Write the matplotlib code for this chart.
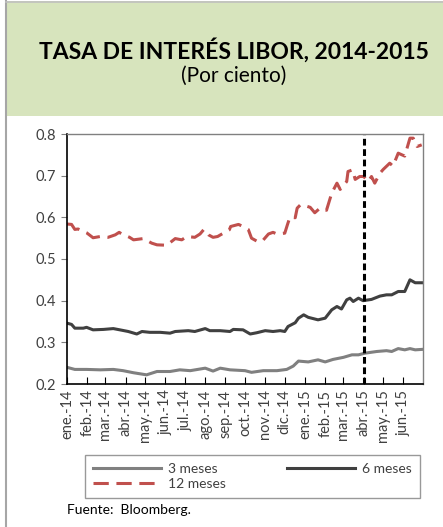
import matplotlib
matplotlib.use("Agg")
import matplotlib.pyplot as plt
from matplotlib.patches import Rectangle
from matplotlib.lines import Line2D
import pandas as pd

plt.rcParams['font.family'] = ['Lato', 'DejaVu Sans']

inicio = pd.Timestamp("2014-01-01")

# dias desde 1-ene-2014 (por ciento)
dias_3m = [0, 12, 30, 51, 71, 86, 102, 122, 138, 158, 173, 189, 212, 224, 235,
           250, 273, 283, 301, 322, 337, 347, 355, 370, 385, 396, 408, 424, 437,
           447, 457, 475, 490, 498, 508, 518, 526, 534, 544]
tasa_3m = [0.240, 0.235, 0.235, 0.234, 0.235, 0.232, 0.227, 0.222, 0.230, 0.230,
           0.234, 0.232, 0.238, 0.231, 0.238, 0.234, 0.232, 0.228, 0.232, 0.232,
           0.235, 0.243, 0.255, 0.253, 0.258, 0.253, 0.259, 0.264, 0.270, 0.270,
           0.274, 0.278, 0.280, 0.278, 0.285, 0.282, 0.285, 0.282, 0.283]

dias_6m = [0, 7, 12, 25, 30, 40, 56, 71, 81, 94, 107, 115, 127, 143, 158, 166,
           186, 196, 212, 219, 235, 250, 255, 270, 281, 291, 304, 316, 327, 334,
           339, 350, 355, 363, 370, 375, 385, 396, 406, 414, 421, 429, 434, 439,
           447, 454, 467, 480, 490, 498, 508, 518, 526, 534, 544]
tasa_6m = [0.346, 0.343, 0.334, 0.334, 0.336, 0.330, 0.331, 0.333, 0.330, 0.326,
           0.320, 0.326, 0.324, 0.324, 0.322, 0.326, 0.328, 0.326, 0.333, 0.328,
           0.328, 0.326, 0.331, 0.330, 0.320, 0.323, 0.328, 0.326, 0.328, 0.326,
           0.338, 0.347, 0.358, 0.366, 0.360, 0.358, 0.354, 0.358, 0.378, 0.386,
           0.380, 0.402, 0.406, 0.398, 0.406, 0.400, 0.403, 0.411, 0.414, 0.414,
           0.422, 0.422, 0.450, 0.443, 0.443]

dias_12m = [0, 7, 12, 17, 30, 40, 51, 63, 74, 80, 84, 96, 102, 117, 130, 138,
            153, 166, 176, 184, 196, 204, 210, 217, 224, 231, 242, 249, 251, 263,
            270, 278, 283, 291, 299, 309, 316, 322, 334, 338, 342, 350, 353, 358,
            365, 373, 380, 388, 398, 406, 414, 419, 429, 431, 438, 442, 449, 455,
            462, 467, 472, 480, 485, 495, 500, 508, 518, 523, 526, 531, 537, 544]
tasa_12m = [0.584, 0.583, 0.571, 0.572, 0.563, 0.551, 0.554, 0.552, 0.558, 0.564,
            0.560, 0.552, 0.546, 0.549, 0.538, 0.534, 0.533, 0.549, 0.546, 0.554,
            0.552, 0.560, 0.571, 0.558, 0.552, 0.554, 0.564, 0.570, 0.578, 0.583,
            0.578, 0.571, 0.550, 0.543, 0.542, 0.560, 0.564, 0.560, 0.562, 0.582,
            0.601, 0.599, 0.622, 0.630, 0.628, 0.624, 0.611, 0.622, 0.617, 0.658,
            0.682, 0.667, 0.686, 0.710, 0.714, 0.691, 0.698, 0.698, 0.686, 0.698,
            0.682, 0.706, 0.715, 0.730, 0.723, 0.754, 0.747, 0.774, 0.790, 0.790,
            0.770, 0.774]

meses = ["ene.-14", "feb.-14", "mar.-14", "abr.-14", "may.-14", "jun.-14",
         "jul.-14", "ago.-14", "sep.-14", "oct.-14", "nov.-14", "dic.-14",
         "ene.-15", "feb.-15", "mar.-15", "abr.-15", "may.-15", "jun.-15"]
fecha_corte = pd.Timestamp("2015-04-01")


def a_fechas(dias):
    return inicio + pd.to_timedelta(dias, unit="D")


fig = plt.figure(figsize=(4.43, 5.27), dpi=100)

# encabezado verde y borde
fig.patches.append(Rectangle((6 / 443, 411 / 527), 437 / 443, 115 / 527,
                             transform=fig.transFigure, facecolor="#D7E4BD",
                             edgecolor="none", zorder=0))
fig.add_artist(Line2D([6 / 443, 6 / 443], [0, 1], transform=fig.transFigure,
                      color="#A6A6A6", lw=1.5))
fig.add_artist(Line2D([6 / 443, 1], [525.5 / 527, 525.5 / 527],
                      transform=fig.transFigure, color="#BFBFBF", lw=1.2))

fig.text(0.527, 0.905, "TASA DE INTERÉS LIBOR, 2014-2015", ha="center",
         va="center", fontsize=16.5, fontweight="bold", color="black")
fig.text(0.527, 0.857, "(Por ciento)", ha="center", va="center",
         fontsize=15, color="black")

ax = fig.add_axes([67 / 443, 143 / 527, 356 / 443, 250 / 527])

l3, = ax.plot(a_fechas(dias_3m), tasa_3m, color="#808080", lw=2.2,
              label="3 meses")
l6, = ax.plot(a_fechas(dias_6m), tasa_6m, color="#404040", lw=2.2,
              label="6 meses")
l12, = ax.plot(a_fechas(dias_12m), tasa_12m, color="#C0504D", lw=2.2,
               dashes=(5, 2.5), label="12 meses")
ax.axvline(fecha_corte, color="black", lw=2.2, dashes=(2.2, 1.2))

ax.set_xlim(pd.Timestamp("2014-01-01"), pd.Timestamp("2015-07-01"))
ax.set_ylim(0.2, 0.8)
ax.set_yticks([0.2, 0.3, 0.4, 0.5, 0.6, 0.7, 0.8])
ax.set_yticklabels([f"{v:.1f}" for v in [0.2, 0.3, 0.4, 0.5, 0.6, 0.7, 0.8]])

ticks_x = pd.date_range("2014-01-01", periods=18, freq="MS")
ax.set_xticks(ticks_x)
ax.set_xticklabels(meses, rotation=90)

ax.tick_params(axis="x", direction="in", length=5, color="black",
               labelcolor="#404040", labelsize=10.5, pad=4)
ax.tick_params(axis="y", direction="out", length=4, color="#808080",
               labelcolor="#404040", labelsize=10.5, pad=4)

for lado in ["top", "right"]:
    ax.spines[lado].set_color("#808080")
    ax.spines[lado].set_linewidth(1.0)
for lado in ["left", "bottom"]:
    ax.spines[lado].set_color("black")
    ax.spines[lado].set_linewidth(1.2)

# orden para que quede 3m y 6m arriba, 12m abajo
leg = fig.legend([l3, l12, l6], ["3 meses", "12 meses", "6 meses"],
                 loc="upper left", bbox_to_anchor=(78 / 443, 1 - 448 / 527),
                 ncol=2, frameon=True, fancybox=False, fontsize=10,
                 handlelength=4.9, columnspacing=4.4, handletextpad=0.5,
                 borderpad=0.6, labelspacing=0.2)
leg.get_frame().set_edgecolor("#808080")
leg.get_frame().set_linewidth(1.0)
for t in leg.get_texts():
    t.set_color("#404040")

fig.text(67 / 443, 1 - 510 / 527, "Fuente:  Bloomberg.", ha="left",
         va="center", fontsize=10, color="black")

fig.savefig("out.png", dpi=100)
